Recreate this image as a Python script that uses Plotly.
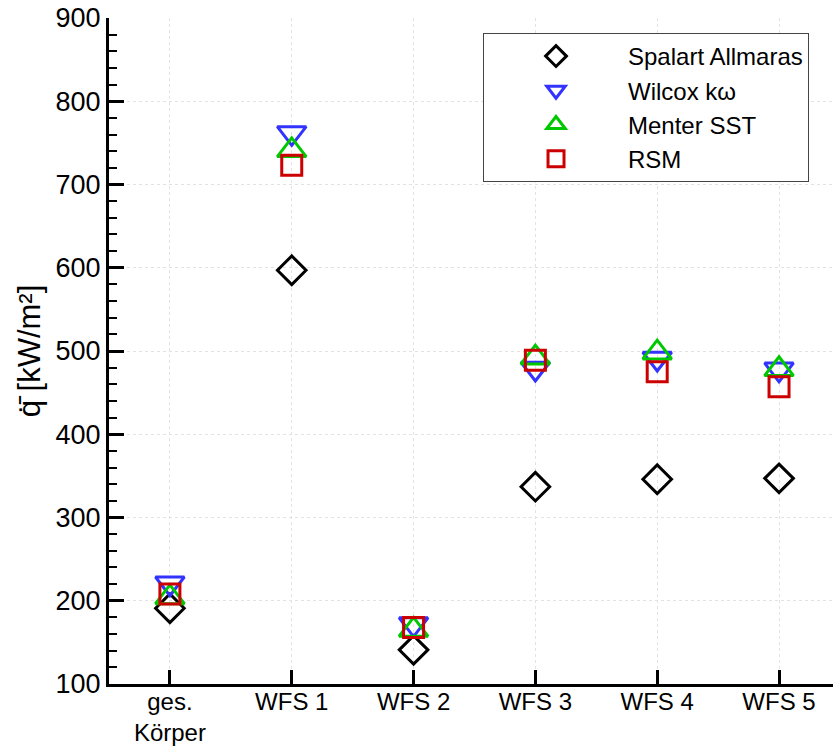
import plotly.graph_objects as go

categories = ["ges.<br>Körper", "WFS 1", "WFS 2", "WFS 3", "WFS 4", "WFS 5"]
spalart = [191, 597, 141, 337, 346, 347]
wilcox = [221, 762, 172, 479, 491, 478]
menter = [204, 741, 165, 492, 498, 478]
rsm = [208, 723, 168, 489, 475, 457]

series = [
    ("Spalart Allmaras", spalart, "diamond-open", "#000000", 22),
    ("Wilcox kω", wilcox, "triangle-down-open", "#3333ff", 25),
    ("Menter SST", menter, "triangle-up-open", "#00c800", 25),
    ("RSM", rsm, "square-open", "#cc0000", 20),
]

xs = list(range(len(categories)))
fig = go.Figure()
for name, vals, sym, col, sz in series:
    fig.add_trace(go.Scatter(
        x=xs, y=vals, mode="markers", name=name,
        marker=dict(symbol=sym, size=sz, color=col, line=dict(width=3, color=col)),
        cliponaxis=False,
    ))

fig.update_layout(
    width=833, height=751,
    margin=dict(l=109, r=0, t=18, b=67, autoexpand=False),
    paper_bgcolor="white", plot_bgcolor="white",
    font=dict(family="Liberation Sans, Arial, sans-serif", size=24, color="black"),
    showlegend=True,
    legend=dict(
        x=0.5166, y=0.9775, xanchor="left", yanchor="top",
        bgcolor="white", bordercolor="#444444", borderwidth=1,
        font=dict(size=24), itemwidth=134, tracegroupgap=0,
    ),
)
fig.update_xaxes(
    range=[-0.5, 5.443], tickmode="array", tickvals=xs, ticktext=categories,
    showline=True, linecolor="black", linewidth=3, mirror=False,
    ticks="inside", ticklen=14, tickwidth=2.5, tickcolor="black",
    showgrid=True, gridcolor="#e2e2e2", griddash="dot", gridwidth=1,
    zeroline=False, tickfont=dict(size=24), automargin=False, ticklabelstandoff=-6,
)
fig.update_yaxes(
    range=[100, 900], dtick=100, tick0=100,
    showline=True, linecolor="black", linewidth=3, mirror=False,
    ticks="inside", ticklen=15, tickwidth=2.5, tickcolor="black",
    minor=dict(dtick=20, ticks="inside", ticklen=8, tickwidth=1.5, tickcolor="black", showgrid=False),
    showgrid=True, gridcolor="#e2e2e2", griddash="dot", gridwidth=1,
    zeroline=False, tickfont=dict(size=27), automargin=False,
    title=dict(text="q\u0307\u0304 [kW/m²]", font=dict(size=31), standoff=6),
)

fig.write_html("out.html")
